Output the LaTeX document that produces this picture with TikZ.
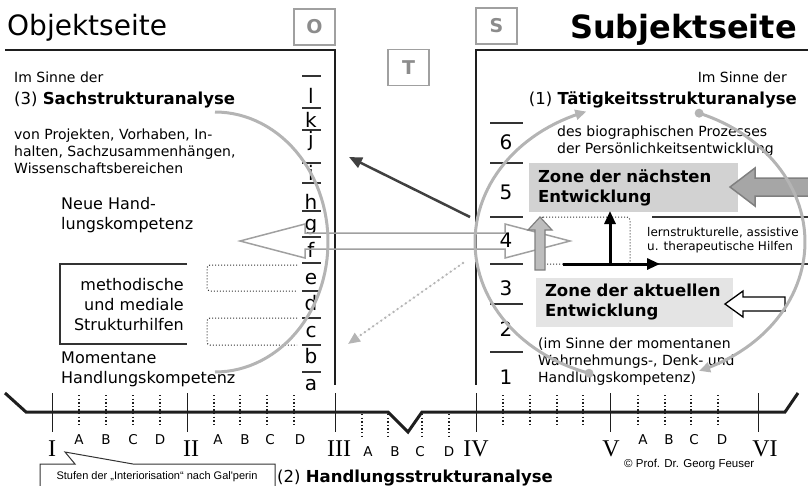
\documentclass[tikz,border=0pt]{standalone}
\usepackage{fontspec}
\setmainfont{DejaVu Sans}
\newfontfamily\romanfont{Liberation Serif}
\newfontfamily\arialfont{Liberation Sans}
\usetikzlibrary{arrows.meta,positioning}

\definecolor{framegray}{HTML}{1E1E1E}
\definecolor{rungcol}{HTML}{333333}
\definecolor{tagline}{HTML}{A0A0A0}
\definecolor{tagtext}{HTML}{8C8C8C}
\definecolor{ringgray}{HTML}{B4B4B4}
\definecolor{zonedark}{HTML}{D2D2D2}
\definecolor{zonelight}{HTML}{E4E4E4}
\definecolor{bigarrow}{HTML}{A6A6A6}
\definecolor{darkarrow}{HTML}{404040}

\newcommand{\fs}[2]{\fontsize{#1}{#2}\selectfont}

\begin{document}
\begin{tikzpicture}[x=1pt, y=-1pt, inner sep=0pt,
    sideframe/.style={draw=framegray, line width=2.5pt},
    tagbox/.style={draw=tagline, line width=1.5pt, minimum width=41pt, minimum height=36pt,
      text=tagtext, font=\fs{19}{19}\bfseries},
    rung/.style={draw=rungcol, line width=1.1pt},
    lvl/.style={font=\fs{20}{20}},
    body/.style={font=\fs{14}{17}, align=left},
    bigtext/.style={font=\fs{16}{20}},
    headtext/.style={font=\fs{16.5}{20}},
    zone/.style={font=\fs{16.5}{20}\bfseries, align=left, minimum height=49pt, inner xsep=9pt},
    ringarc/.style={draw=ringgray, line width=3pt},
    ringdot/.style={circle, fill=ringgray, minimum size=9pt},
    auxdots/.style={draw=rungcol, line width=1pt, dotted, rounded corners=3pt},
    majtick/.style={draw=framegray, line width=1pt},
    subtick/.style={draw=framegray, line width=1.4pt, dash pattern=on 1.4pt off 2.2pt},
    stage/.style={font=\fs{13.5}{13.5}},
    romnum/.style={font=\romanfont\fs{24}{24}},
    tipA/.style={-{Triangle[length=13pt,width=11pt]}},
    ringtip/.style={-{Triangle[length=11pt,width=10pt]}},
  ]
  \useasboundingbox (0,0) rectangle (808,485);

  \node[tagbox] (tagO) at (314.5,27) {O};
  \node[tagbox] (tagS) at (496.5,26) {S};
  \node[tagbox] (tagT) at (408.5,67.5) {T};
  \node[anchor=base west, font=\fs{28}{28}] (objtitle) at (7,35) {Objektseite};
  \node[anchor=base east, font=\fs{32}{32}\bfseries] (subjtitle) at (797,38) {Subjektseite};

  \draw[sideframe] (5,50) -- (335,50) -- (335,385);
  \draw[sideframe] (810,50) -- (476,50) -- (476,385);

  \node[anchor=base west, font=\fs{14}{17}] (senseL) at (14,82) {Im Sinne der};
  \node[anchor=base west, headtext] (sachana) at (14,104) {(3) \textbf{Sachstrukturanalyse}};
  \node[anchor=west, body] (objects) at (14,151) {von Projekten, Vorhaben, In-\\halten, Sachzusammenhängen,\\Wissenschaftsbereichen};
  \node[anchor=west, bigtext, align=left] (newcomp) at (61,215) {Neue Hand-\\lungskompetenz};
  \node[anchor=west, bigtext, align=left] (curcomp) at (61,369) {Momentane\\Handlungskompetenz};
  \node[anchor=east, bigtext, align=right] (aids) at (184,305) {methodische\\und mediale\\Strukturhilfen};
  \draw[line width=1.2pt, draw=rungcol] (187,264) -- (60,264) -- (60,344) -- (187,344);
  \draw[auxdots] (297,265) -- (207,265) -- (207,291) -- (297,291);
  \draw[auxdots] (297,318) -- (207,318) -- (207,345) -- (297,345);

  \foreach \y in {76,108,130,163,183,211,237,263,291,318,345,372}
    \draw[rung] (302,\y) -- (321,\y);
  \foreach \l/\y in {l/103,k/127,j/146,i/180,h/209,g/230,f/257,e/284,d/310,c/337,b/363,a/390}
    \node[lvl, anchor=base] (let-\l) at (311,\y) {\l};

  \foreach \y in {123,163,217,264,304,352}
    \draw[rung] (490,\y) -- (523,\y);
  \foreach \n/\y in {6/142,5/192,4/240,3/288,2/329,1/377}
    \node[lvl] (num-\n) at (506,\y) {\n};

  \node[anchor=base east, font=\fs{14}{17}] (senseR) at (787,82) {Im Sinne der};
  \node[anchor=base east, headtext] (actana) at (797,104) {(1) \textbf{Tätigkeitsstrukturanalyse}};
  \node[anchor=west, body] (biogr) at (557,141) {des biographischen Prozesses\\der Persönlichkeitsentwicklung};
  \node[anchor=west, body] (moment) at (538,362) {(im Sinne der momentanen\\Wahrnehmungs-, Denk- und\\Handlungskompetenz)};
  \node[anchor=west, font=\fs{12}{14}, align=left] (helps) at (647,240) {lernstrukturelle, assistive\\u. therapeutische Hilfen};

  \node[zone, fill=zonedark, text width=191pt] (zonenext) at (633.5,187.5) {Zone der nächsten\\Entwicklung};
  \node[zone, fill=zonelight, text width=179pt] (zonecur) at (634.5,302.5) {Zone der aktuellen\\Entwicklung};

  \draw[auxdots] (540,217) -- (630,217) -- (630,264) -- (540,264) -- cycle;
  \draw[rung] (652,217) -- (810,217);
  \draw[rung] (657,264) -- (810,264);
  \coordinate (hbase) at (563,264);
  \coordinate (hend) at (660,264);
  \coordinate (vbase) at (610,264);
  \coordinate (vend) at (610,211);
  \draw[line width=3pt, tipA] (hbase) -- (hend);
  \draw[line width=3pt, tipA] (vbase) -- (vend);

  \draw[draw=tagline, line width=1.5pt, miter limit=20]
    (240,241) -- (305,224) -- (305,233) -- (505,233) -- (505,224) -- (570,241)
    -- (505,258) -- (505,249) -- (305,249) -- (305,258) -- cycle;

  \draw[draw=gray, fill=zonedark!90!black, line width=1.2pt]
    (535,270) -- (535,230) -- (528,230) -- (540,217) -- (552,230) -- (545,230) -- (545,270) -- cycle;
  \draw[draw=gray, fill=bigarrow, line width=1.5pt]
    (730,187) -- (755,168) -- (755,178) -- (815,178) -- (815,196) -- (755,196) -- (755,206) -- cycle;
  \draw[draw=black, fill=white, line width=1.3pt]
    (725,304) -- (743,291) -- (743,297) -- (785,297) -- (785,311) -- (743,311) -- (743,317) -- cycle;

  \draw[ringarc] plot[domain=-90:90, samples=60, variable=\t] ({215+113*cos(\t)},{242+130*sin(\t)});
  \node[ringdot] (dotL) at ({640+165*cos(108)},{242+138*sin(108)}) {};
  \node[ringdot] (dotR) at ({640+165*cos(-69)},{242+138*sin(-69)}) {};
  \draw[ringarc, ringtip] plot[domain=108:251, samples=60, variable=\t] ({640+165*cos(\t)},{242+138*sin(\t)});
  \draw[ringarc, ringtip] plot[domain=-69:69, samples=60, variable=\t] ({640+165*cos(\t)},{242+138*sin(\t)});

  \coordinate (darkfrom) at (470,217);
  \coordinate (darkto) at (349,157);
  \draw[draw=darkarrow, line width=2.5pt, tipA] (darkfrom) -- (darkto);
  \coordinate (dotfrom) at (463,263);
  \coordinate (dotto) at (348,344);
  \draw[draw=ringgray, fill=ringgray, line width=2.6pt, dash pattern=on 0pt off 5pt, line cap=round,
    -{Triangle[length=12pt,width=10pt]}] (dotfrom) -- (dotto);

  \draw[line width=3pt, draw=framegray] (5,393) -- (26,412) -- (388,412) -- (408,432) -- (422,412) -- (785,412) -- (798,393);
  \foreach \x in {52,187,335,476,610,758}
    \draw[majtick] (\x,393) -- (\x,432);
  \foreach \x in {79,106,133,160,214,240,267,294,503,530,557,583,638,665,691,718}
    \draw[subtick] (\x,395) -- (\x,426);
  \foreach \x in {362,388,422,449}
    \draw[subtick] (\x,414) -- (\x,438);
  \foreach \r/\x in {I/52,II/191,III/339,IV/476,V/611,VI/765}
    \node[romnum] (st-\r) at (\x,449) {\r};
  \foreach \g/\l/\x/\y in {1/A/79/440,1/B/106/440,1/C/133/440,1/D/160/440,
      2/A/218/440,2/B/245/440,2/C/270/440,2/D/300/440,
      3/A/368/452,3/B/395/452,3/C/420/452,3/D/449/452,
      5/A/643/440,5/B/669/440,5/C/694/440,5/D/722/440}
    \node[stage] (sub-\g\l) at (\x,\y) {\l};

  \node[font=\arialfont\fs{11}{11}] (galperin) at (157,477) {Stufen der „Interiorisation“ nach Gal'perin};
  \draw[line width=1pt, draw=rungcol] (40,490) -- (40,464) -- (75,464) -- (65,452) -- (133,464) -- (275,464) -- (275,490);
  \node[anchor=base west, headtext] (handana) at (277,482) {(2) \textbf{Handlungsstrukturanalyse}};
  \node[anchor=west, font=\arialfont\fs{11.5}{11.5}] (copyr) at (624,465) {© Prof. Dr. Georg Feuser};
\end{tikzpicture}
\end{document}
